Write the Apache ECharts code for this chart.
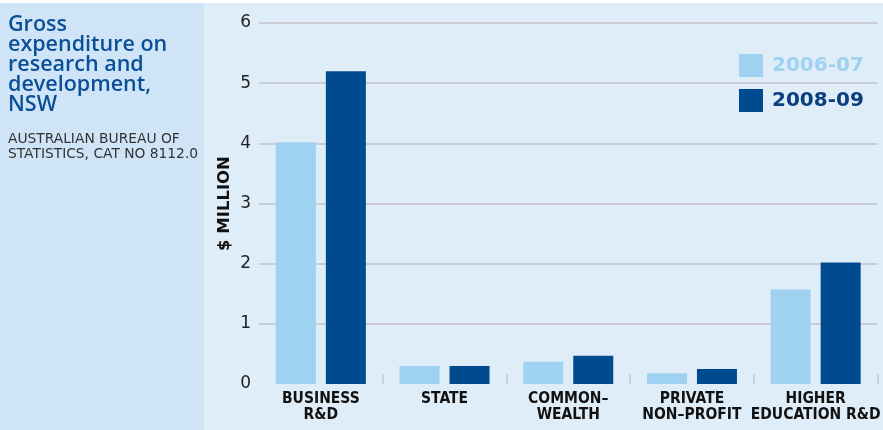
<!DOCTYPE html>
<html>
<head>
<meta charset="utf-8">
<script src="https://cdn.jsdelivr.net/npm/echarts@6/dist/echarts.min.js"></script>
<style>
html,body{margin:0;padding:0;background:#fff;}
#c{width:883px;height:430px;}
</style>
</head>
<body>
<div id="c"></div>
<script>
const categories = ['BUSINESS\nR&D', 'STATE', 'COMMON\u2013\nWEALTH', 'PRIVATE\nNON\u2013PROFIT', 'HIGHER\nEDUCATION R&D'];
const seriesNames = ['2006-07', '2008-09'];
const values2006 = [4.02, 0.30, 0.37, 0.18, 1.57];
const values2008 = [5.20, 0.30, 0.47, 0.25, 2.02];
const yTicks = [0, 1, 2, 3, 4, 5, 6];

const lightBlue = '#9fd1f0';
const darkBlue = '#004a8f';

const chart = echarts.init(document.getElementById('c'));
chart.setOption({
  backgroundColor: '#ffffff',
  animation: false,
  graphic: [
    {type: 'rect', z: -10, shape: {x: 0, y: 3, width: 204, height: 427}, style: {fill: '#cfe4f7'}, silent: true},
    {type: 'rect', z: -10, shape: {x: 204, y: 3, width: 679, height: 427}, style: {fill: '#dfedf9'}, silent: true}
  ],
  title: [
    {
      text: 'Gross\nexpenditure on\nresearch and\ndevelopment,\nNSW',
      left: 8, top: 15, padding: 0,
      textStyle: {fontFamily: 'Open Sans', fontWeight: 600, fontSize: 21.5, lineHeight: 20, color: '#0b4f98'}
    },
    {
      text: 'AUSTRALIAN BUREAU OF\nSTATISTICS, CAT NO 8112.0',
      left: 8, top: 132, padding: 0,
      textStyle: {fontFamily: 'DejaVu Sans', fontWeight: 400, fontSize: 13.8, lineHeight: 15, color: '#333333'}
    }
  ],
  legend: {
    orient: 'vertical',
    left: 739, top: 54, padding: 0,
    itemWidth: 24, itemHeight: 23, itemGap: 12,
    icon: 'rect',
    textStyle: {fontFamily: 'DejaVu Sans', fontWeight: 'bold', fontSize: 20, padding: [0, 0, 0, 4]},
    data: [
      {name: seriesNames[0], textStyle: {color: lightBlue}},
      {name: seriesNames[1], textStyle: {color: '#0b3f80'}}
    ]
  },
  grid: {left: 259, right: 0, top: 23, bottom: 46},
  xAxis: {
    type: 'category',
    data: categories,
    axisLine: {show: true, lineStyle: {color: '#dfedf9', width: 2}},
    axisTick: {show: true, inside: true, length: 10, lineStyle: {color: '#cfd3d8', width: 2},
      interval: function (i) { return i > 0; }},
    axisLabel: {fontFamily: 'DejaVu Sans Condensed', fontWeight: 'bold', fontSize: 15.5, lineHeight: 16, color: '#111111', margin: 7, interval: 0}
  },
  yAxis: {
    type: 'value',
    min: yTicks[0], max: yTicks[yTicks.length - 1], interval: 1,
    name: '$ MILLION',
    nameLocation: 'middle', nameRotate: 90, nameGap: 26, nameMoveOverlap: false,
    nameTextStyle: {fontFamily: 'DejaVu Sans', fontWeight: 'bold', fontSize: 16.5, color: '#111111'},
    axisLine: {show: false}, axisTick: {show: false},
    axisLabel: {fontFamily: 'DejaVu Sans', fontSize: 17, color: '#222222', margin: 8},
    splitLine: {lineStyle: {color: '#c9cdd2', width: 2}}
  },
  series: [
    {name: seriesNames[0], type: 'bar', data: values2006, barWidth: 40, barGap: '25%', itemStyle: {color: lightBlue}},
    {name: seriesNames[1], type: 'bar', data: values2008, barWidth: 40, barGap: '25%', itemStyle: {color: darkBlue}}
  ]
});
</script>
</body>
</html>
